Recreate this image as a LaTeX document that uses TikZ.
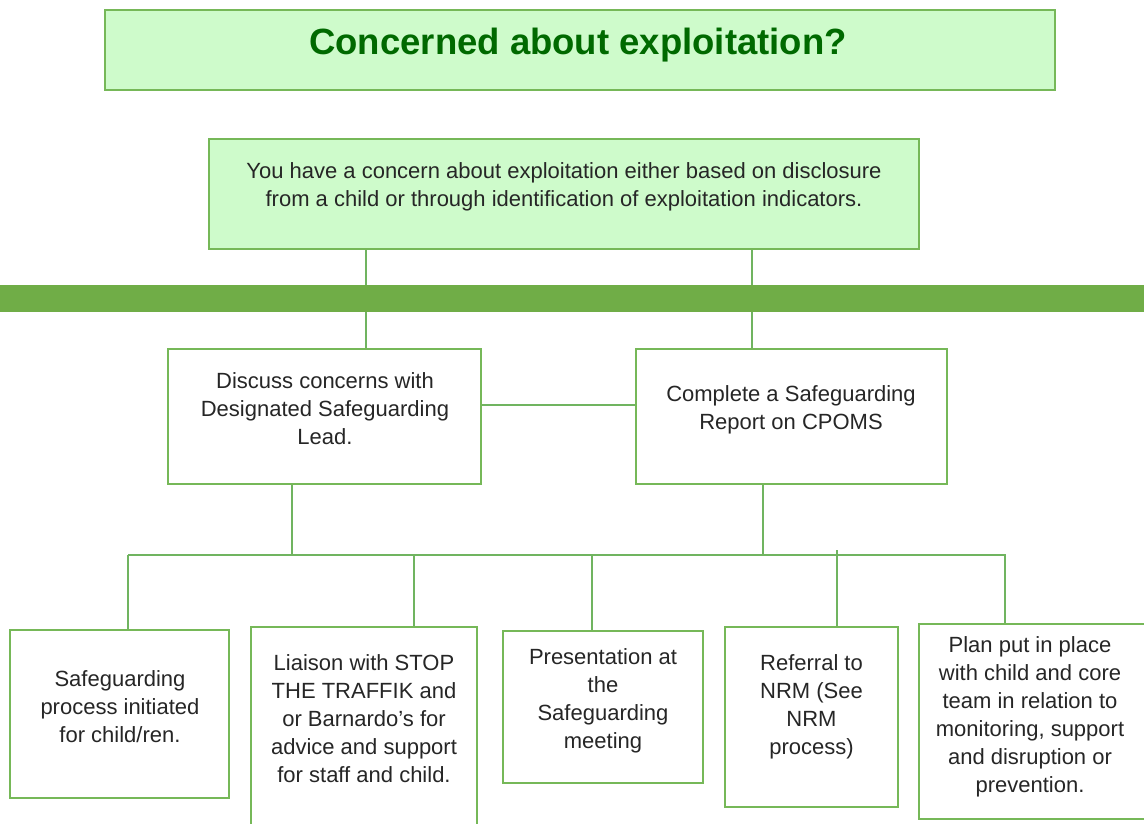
\documentclass[tikz,border=0pt]{standalone}
\usepackage{fontspec}
\setmainfont{Liberation Sans}
\usetikzlibrary{fit}
\definecolor{boxline}{RGB}{118,184,88}
\definecolor{linkline}{RGB}{112,180,96}
\definecolor{mintfill}{RGB}{206,251,203}
\definecolor{bargreen}{RGB}{112,173,71}
\definecolor{titlegreen}{RGB}{0,105,0}
\definecolor{bodytext}{RGB}{38,38,38}
\begin{document}
\begin{tikzpicture}[x=1pt,y=-1pt,
  panel/.style={draw=boxline, line width=2pt, inner sep=0pt},
  mintpanel/.style={panel, fill=mintfill},
  txt/.style={align=center, text=bodytext, inner sep=0pt,
    font=\fontsize{22}{28}\selectfont},
  link/.style={draw=linkline, line width=1.6pt}
]
\clip (0,0) rectangle (1144,823);
\fill[white] (0,0) rectangle (1144,823);

% heading
\node[mintpanel, fit={(105,10) (1055,90)}] (head) {};
\node[anchor=base, inner sep=0pt, text=titlegreen,
  font=\bfseries\fontsize{36.5}{40}\selectfont] (headtxt) at (578,54)
  {Concerned about exploitation?};

% starting concern
\node[mintpanel, fit={(209,139) (919,249)}] (concern) {};
\node[txt] (concerntxt) at (564,187)
  {You have a concern about exploitation either based on disclosure\\
   from a child or through identification of exploitation indicators.};

% second level
\node[panel, fit={(168,349) (481,484)}] (dsl) {};
\node[txt] (dsltxt) at (325,409)
  {Discuss concerns with\\Designated Safeguarding\\Lead.};
\node[panel, fit={(636,349) (947,484)}] (cpoms) {};
\node[txt] (cpomstxt) at (791,410)
  {Complete a Safeguarding\\Report on CPOMS};

% actions
\node[panel, fit={(10,630) (229,798)}] (act1) {};
\node[txt] (act1txt) at (120,707)
  {Safeguarding\\process initiated\\for child/ren.};
\node[panel, fit={(251,627) (477,840)}] (act2) {};
\node[txt] (act2txt) at (364,719)
  {Liaison with STOP\\THE TRAFFIK and\\or Barnardo's for\\advice and support\\for staff and child.};
\node[panel, fit={(503,631) (703,783)}] (act3) {};
\node[txt] (act3txt) at (603,701)
  {Presentation at\\the\\Safeguarding\\meeting};
\node[panel, fit={(725,627) (898,807)}] (act4) {};
\node[txt] (act4txt) at (811.5,707)
  {Referral to\\NRM (See\\NRM\\process)};
\node[panel, fit={(919,624) (1160,819)}] (act5) {};
\node[txt] (act5txt) at (1030,717)
  {Plan put in place\\with child and core\\team in relation to\\monitoring, support\\and disruption or\\prevention.};

% connector guide positions
\coordinate (xa) at (366,0);
\coordinate (xb) at (752,0);
\coordinate (ymid) at (0,405);
\coordinate (busL) at (128,555);
\coordinate (busR) at (1006,555);
\coordinate (j1) at (128,555);
\coordinate (j2) at (414,555);
\coordinate (j3) at (592,555);
\coordinate (j4) at (837,550);
\coordinate (j5) at (1005,555);
\coordinate (dslfoot) at (292,555);
\coordinate (cpfoot) at (763,555);

% connectors
\draw[link] (concern.south -| xa) -- (dsl.north -| xa);
\draw[link] (concern.south -| xb) -- (cpoms.north -| xb);
\draw[link, line width=2.4pt] (dsl.east |- ymid) -- (cpoms.west |- ymid);
\draw[link] (dsl.south -| dslfoot) -- (dslfoot);
\draw[link] (cpoms.south -| cpfoot) -- (cpfoot);
\draw[link] (busL) -- (busR);
\draw[link] (j1) -- (act1.north -| j1);
\draw[link] (j2) -- (act2.north -| j2);
\draw[link] (j3) -- (act3.north -| j3);
\draw[link] (j4) -- (act4.north -| j4);
\draw[link] (j5) -- (act5.north -| j5);

% divider band across the page
\fill[bargreen] (0,285) rectangle (1144,312);
\end{tikzpicture}
\end{document}
